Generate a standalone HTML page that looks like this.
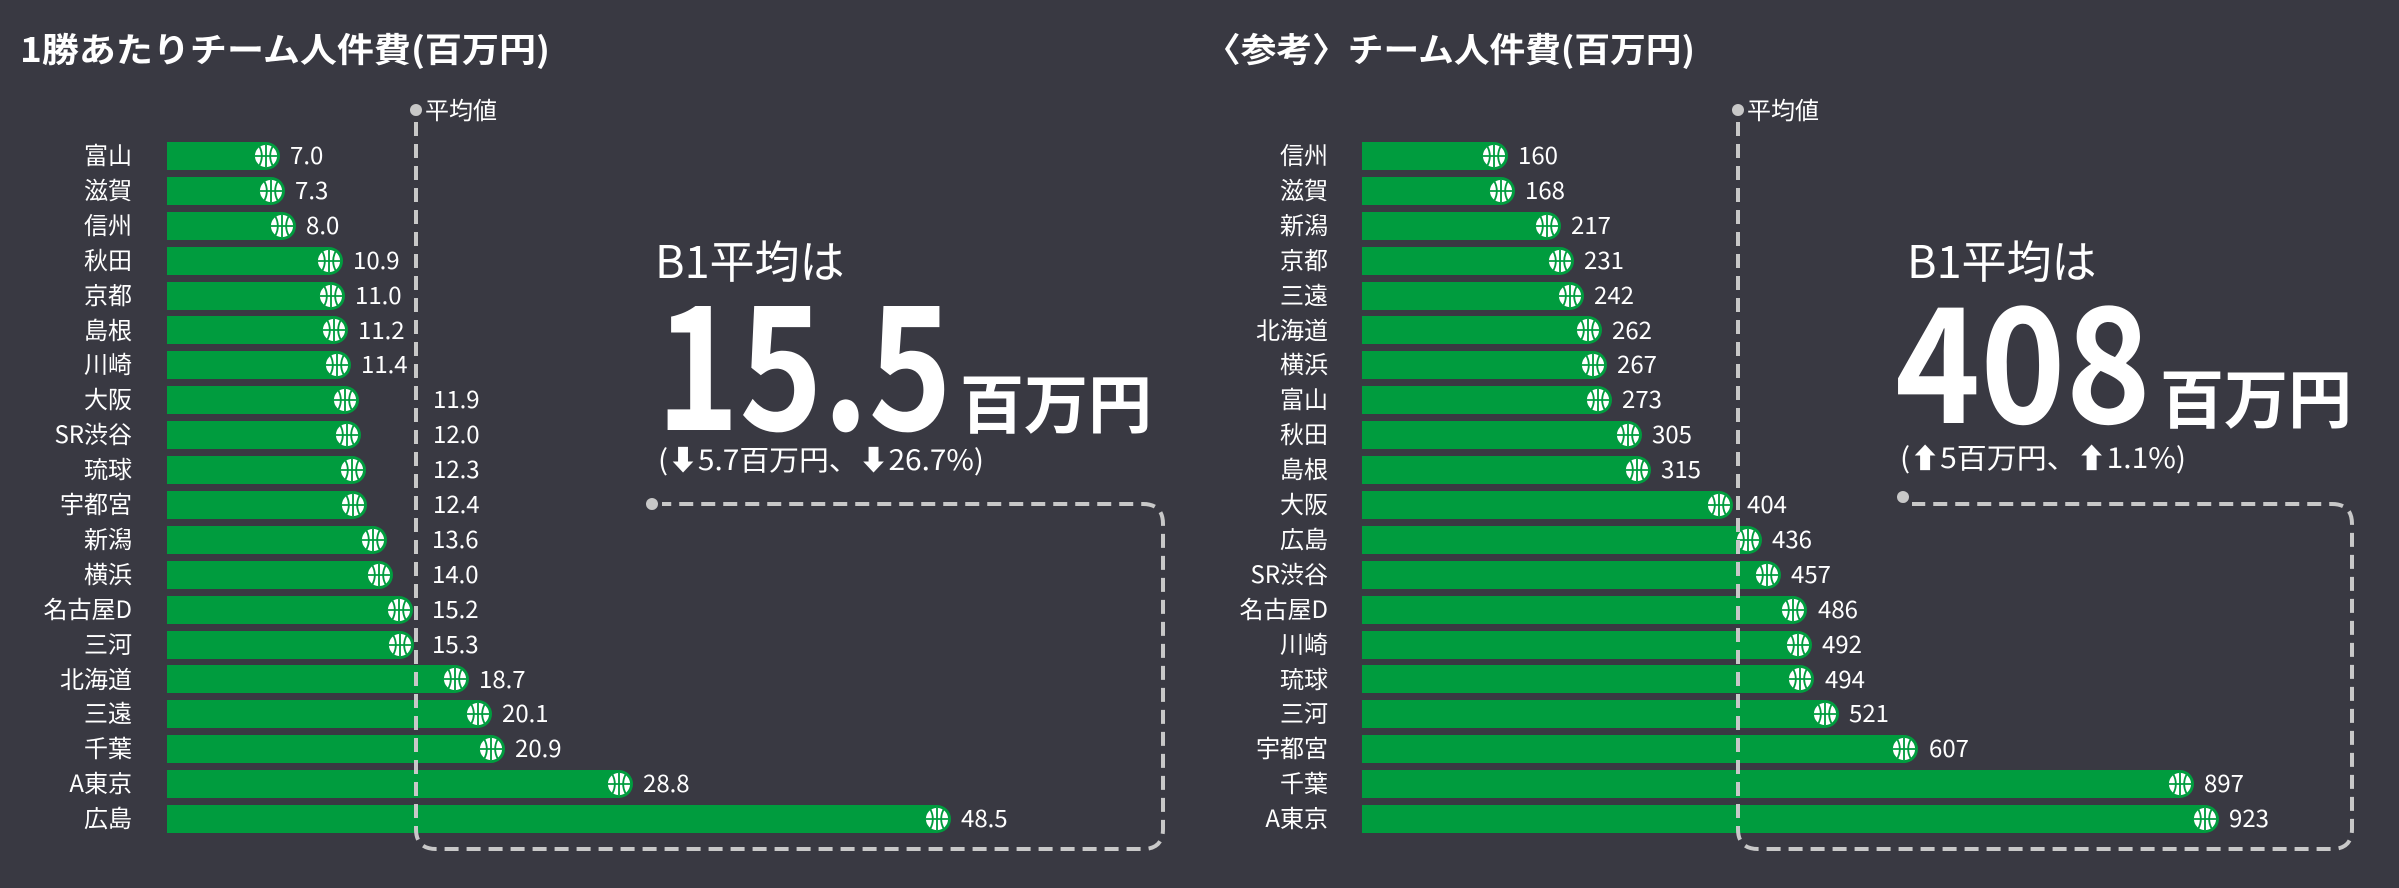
<!DOCTYPE html>
<html><head><meta charset="utf-8"><style>
html,body{margin:0;padding:0;background:#393942;}
svg{display:block;font-family:"Liberation Sans","Noto Sans CJK JP",sans-serif;}
.lb{font-family:"Noto Sans CJK JP",sans-serif;font-size:24px;fill:#fff;text-anchor:end;}
.v{font-family:"Noto Sans CJK JP",sans-serif;font-size:24px;fill:#fff;}
.b{fill:#009c3e;}
</style></head><body>
<svg width="2399" height="888" viewBox="0 0 2399 888" xmlns="http://www.w3.org/2000/svg">
<defs>
<symbol id="ball" viewBox="-13 -13 26 26" overflow="visible">
<circle r="12" fill="#fff"/>
<g stroke="#009c3e" stroke-width="2" fill="none">
<line x1="0" y1="-12" x2="0" y2="12"/><line x1="-12" y1="0" x2="12" y2="0"/>
<path d="M-7,-10 Q-2,0 -7,10"/><path d="M7,-10 Q2,0 7,10"/></g>
</symbol>
</defs>
<rect width="2399" height="888" fill="#393942"/>
<text x="20" y="62" font-family="Noto Sans CJK JP,sans-serif" font-weight="bold" font-size="34" fill="#fff" textLength="530" lengthAdjust="spacingAndGlyphs">1勝あたりチーム人件費(百万円)</text>
<text x="1205" y="62" font-family="Noto Sans CJK JP,sans-serif" font-weight="bold" font-size="34" fill="#fff" textLength="490" lengthAdjust="spacingAndGlyphs">〈参考〉チーム人件費(百万円)</text>

<!-- LEFT BARS -->
<g class="b">
<path d="M167 142H266a14 14 0 0 1 0 28H167z"/>
<path d="M167 177H271a14 14 0 0 1 0 28H167z"/>
<path d="M167 212H282a14 14 0 0 1 0 28H167z"/>
<path d="M167 247H329a14 14 0 0 1 0 28H167z"/>
<path d="M167 282H331a14 14 0 0 1 0 28H167z"/>
<path d="M167 316H334a14 14 0 0 1 0 28H167z"/>
<path d="M167 351H337a14 14 0 0 1 0 28H167z"/>
<path d="M167 386H345a14 14 0 0 1 0 28H167z"/>
<path d="M167 421H347a14 14 0 0 1 0 28H167z"/>
<path d="M167 456H352a14 14 0 0 1 0 28H167z"/>
<path d="M167 491H353a14 14 0 0 1 0 28H167z"/>
<path d="M167 526H373a14 14 0 0 1 0 28H167z"/>
<path d="M167 561H379a14 14 0 0 1 0 28H167z"/>
<path d="M167 596H399a14 14 0 0 1 0 28H167z"/>
<path d="M167 631H400a14 14 0 0 1 0 28H167z"/>
<path d="M167 665H455a14 14 0 0 1 0 28H167z"/>
<path d="M167 700H478a14 14 0 0 1 0 28H167z"/>
<path d="M167 735H491a14 14 0 0 1 0 28H167z"/>
<path d="M167 770H619a14 14 0 0 1 0 28H167z"/>
<path d="M167 805H937a14 14 0 0 1 0 28H167z"/>
</g>
<g>
<use href="#ball" x="254" y="144" width="24" height="24"/>
<use href="#ball" x="259" y="179" width="24" height="24"/>
<use href="#ball" x="270" y="214" width="24" height="24"/>
<use href="#ball" x="317" y="249" width="24" height="24"/>
<use href="#ball" x="319" y="284" width="24" height="24"/>
<use href="#ball" x="322" y="318" width="24" height="24"/>
<use href="#ball" x="325" y="353" width="24" height="24"/>
<use href="#ball" x="333" y="388" width="24" height="24"/>
<use href="#ball" x="335" y="423" width="24" height="24"/>
<use href="#ball" x="340" y="458" width="24" height="24"/>
<use href="#ball" x="341" y="493" width="24" height="24"/>
<use href="#ball" x="361" y="528" width="24" height="24"/>
<use href="#ball" x="367" y="563" width="24" height="24"/>
<use href="#ball" x="387" y="598" width="24" height="24"/>
<use href="#ball" x="388" y="633" width="24" height="24"/>
<use href="#ball" x="443" y="667" width="24" height="24"/>
<use href="#ball" x="466" y="702" width="24" height="24"/>
<use href="#ball" x="479" y="737" width="24" height="24"/>
<use href="#ball" x="607" y="772" width="24" height="24"/>
<use href="#ball" x="925" y="807" width="24" height="24"/>
</g>
<g class="lb">
<text x="132" y="164">富山</text><text x="132" y="199">滋賀</text><text x="132" y="234">信州</text><text x="132" y="269">秋田</text><text x="132" y="304">京都</text><text x="132" y="339">島根</text><text x="132" y="373">川崎</text><text x="132" y="408">大阪</text><text x="132" y="443">SR渋谷</text><text x="132" y="478">琉球</text><text x="132" y="513">宇都宮</text><text x="132" y="548">新潟</text><text x="132" y="583">横浜</text><text x="132" y="618">名古屋D</text><text x="132" y="653">三河</text><text x="132" y="688">北海道</text><text x="132" y="722">三遠</text><text x="132" y="757">千葉</text><text x="132" y="792">A東京</text><text x="132" y="827">広島</text>
</g>
<g class="v">
<text x="290" y="164">7.0</text><text x="295" y="199">7.3</text><text x="306" y="234">8.0</text><text x="353" y="269">10.9</text><text x="355" y="304">11.0</text><text x="358" y="339">11.2</text><text x="361" y="373">11.4</text><text x="433" y="408">11.9</text><text x="433" y="443">12.0</text><text x="433" y="478">12.3</text><text x="433" y="513">12.4</text><text x="432" y="548">13.6</text><text x="432" y="583">14.0</text><text x="432" y="618">15.2</text><text x="432" y="653">15.3</text><text x="479" y="688">18.7</text><text x="502" y="722">20.1</text><text x="515" y="757">20.9</text><text x="643" y="792">28.8</text><text x="961" y="827">48.5</text>
</g>

<!-- RIGHT BARS -->
<g class="b">
<path d="M1362 142H1494a14 14 0 0 1 0 28H1362z"/>
<path d="M1362 177H1501a14 14 0 0 1 0 28H1362z"/>
<path d="M1362 212H1547a14 14 0 0 1 0 28H1362z"/>
<path d="M1362 247H1560a14 14 0 0 1 0 28H1362z"/>
<path d="M1362 282H1570a14 14 0 0 1 0 28H1362z"/>
<path d="M1362 316H1588a14 14 0 0 1 0 28H1362z"/>
<path d="M1362 351H1593a14 14 0 0 1 0 28H1362z"/>
<path d="M1362 386H1598a14 14 0 0 1 0 28H1362z"/>
<path d="M1362 421H1628a14 14 0 0 1 0 28H1362z"/>
<path d="M1362 456H1637a14 14 0 0 1 0 28H1362z"/>
<path d="M1362 491H1719a14 14 0 0 1 0 28H1362z"/>
<path d="M1362 526H1748a14 14 0 0 1 0 28H1362z"/>
<path d="M1362 561H1767a14 14 0 0 1 0 28H1362z"/>
<path d="M1362 596H1793a14 14 0 0 1 0 28H1362z"/>
<path d="M1362 631H1798a14 14 0 0 1 0 28H1362z"/>
<path d="M1362 665H1800a14 14 0 0 1 0 28H1362z"/>
<path d="M1362 700H1825a14 14 0 0 1 0 28H1362z"/>
<path d="M1362 735H1904a14 14 0 0 1 0 28H1362z"/>
<path d="M1362 770H2180a14 14 0 0 1 0 28H1362z"/>
<path d="M1362 805H2205a14 14 0 0 1 0 28H1362z"/>
</g>
<g>
<use href="#ball" x="1482" y="144" width="24" height="24"/>
<use href="#ball" x="1489" y="179" width="24" height="24"/>
<use href="#ball" x="1535" y="214" width="24" height="24"/>
<use href="#ball" x="1548" y="249" width="24" height="24"/>
<use href="#ball" x="1558" y="284" width="24" height="24"/>
<use href="#ball" x="1576" y="318" width="24" height="24"/>
<use href="#ball" x="1581" y="353" width="24" height="24"/>
<use href="#ball" x="1586" y="388" width="24" height="24"/>
<use href="#ball" x="1616" y="423" width="24" height="24"/>
<use href="#ball" x="1625" y="458" width="24" height="24"/>
<use href="#ball" x="1707" y="493" width="24" height="24"/>
<use href="#ball" x="1736" y="528" width="24" height="24"/>
<use href="#ball" x="1755" y="563" width="24" height="24"/>
<use href="#ball" x="1781" y="598" width="24" height="24"/>
<use href="#ball" x="1786" y="633" width="24" height="24"/>
<use href="#ball" x="1788" y="667" width="24" height="24"/>
<use href="#ball" x="1813" y="702" width="24" height="24"/>
<use href="#ball" x="1892" y="737" width="24" height="24"/>
<use href="#ball" x="2168" y="772" width="24" height="24"/>
<use href="#ball" x="2193" y="807" width="24" height="24"/>
</g>
<g class="lb">
<text x="1328" y="164">信州</text><text x="1328" y="199">滋賀</text><text x="1328" y="234">新潟</text><text x="1328" y="269">京都</text><text x="1328" y="304">三遠</text><text x="1328" y="339">北海道</text><text x="1328" y="373">横浜</text><text x="1328" y="408">富山</text><text x="1328" y="443">秋田</text><text x="1328" y="478">島根</text><text x="1328" y="513">大阪</text><text x="1328" y="548">広島</text><text x="1328" y="583">SR渋谷</text><text x="1328" y="618">名古屋D</text><text x="1328" y="653">川崎</text><text x="1328" y="688">琉球</text><text x="1328" y="722">三河</text><text x="1328" y="757">宇都宮</text><text x="1328" y="792">千葉</text><text x="1328" y="827">A東京</text>
</g>
<g class="v">
<text x="1518" y="164">160</text><text x="1525" y="199">168</text><text x="1571" y="234">217</text><text x="1584" y="269">231</text><text x="1594" y="304">242</text><text x="1612" y="339">262</text><text x="1617" y="373">267</text><text x="1622" y="408">273</text><text x="1652" y="443">305</text><text x="1661" y="478">315</text><text x="1747" y="513">404</text><text x="1772" y="548">436</text><text x="1791" y="583">457</text><text x="1818" y="618">486</text><text x="1822" y="653">492</text><text x="1825" y="688">494</text><text x="1849" y="722">521</text><text x="1929" y="757">607</text><text x="2204" y="792">897</text><text x="2229" y="827">923</text>
</g>

<!-- dashed guides -->
<g fill="none" stroke="#c8c8c8" stroke-width="4" stroke-dasharray="14 8">
<path d="M416 122V829Q416 849 436 849H1143Q1163 849 1163 829V524Q1163 504 1143 504H662"/>
<path d="M1738 122V829Q1738 849 1758 849H2332Q2352 849 2352 829V524Q2352 504 2332 504H1912"/>
</g>
<g fill="#c8c8c8">
<circle cx="416" cy="110" r="6"/><circle cx="652" cy="504" r="6"/>
<circle cx="1738" cy="110" r="6"/><circle cx="1903" cy="497" r="6"/>
</g>
<g font-family="Noto Sans CJK JP,sans-serif" fill="#fff" font-size="24">
<text x="425" y="119">平均値</text><text x="1747" y="119">平均値</text>
</g>

<!-- callouts -->
<g font-family="Noto Sans CJK JP,sans-serif" fill="#fff">
<text x="655" y="278" font-size="45">B1平均は</text>
<text x="656" y="430" font-size="172" font-weight="bold" textLength="296" lengthAdjust="spacingAndGlyphs">15.5</text>
<text x="960" y="428" font-size="64" font-weight="bold">百万円</text>
<text x="658" y="470" font-size="28" textLength="326" lengthAdjust="spacingAndGlyphs">(⬇5.7百万円、⬇26.7%)</text>

<text x="1907" y="278" font-size="45">B1平均は</text>
<text x="1895" y="423" font-size="160" font-weight="bold" textLength="256" lengthAdjust="spacingAndGlyphs">408</text>
<text x="2160" y="423" font-size="64" font-weight="bold">百万円</text>
<text x="1900" y="468" font-size="28" textLength="286" lengthAdjust="spacingAndGlyphs">(⬆5百万円、⬆1.1%)</text>
</g>
</svg>
</body></html>
